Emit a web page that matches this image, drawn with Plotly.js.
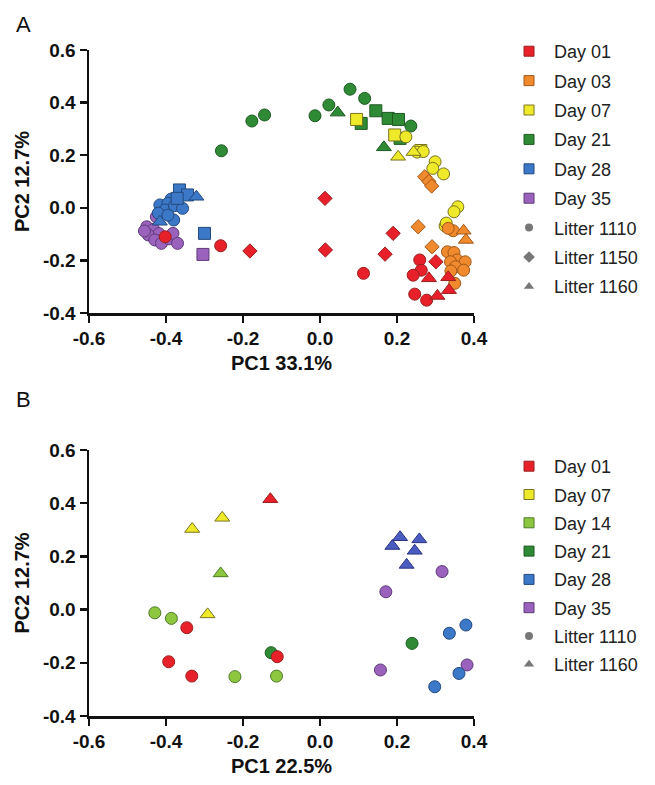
<!DOCTYPE html>
<html>
<head>
<meta charset="utf-8">
<script src="https://cdn.plot.ly/plotly-3.0.1.min.js"></script>
<style>html,body{margin:0;padding:0;background:#fff;}#chart{width:655px;height:785px;}</style>
</head>
<body>
<div id="chart"></div>
<script>
// ---------- DATA ----------
const xTickVals = [-0.6, -0.4, -0.2, 0, 0.2, 0.4];
const xTickText = ['-0.6', '-0.4', '-0.2', '0.0', '0.2', '0.4'];
const yTickVals = [-0.4, -0.2, 0, 0.2, 0.4, 0.6];
const yTickText = ['-0.4', '-0.2', '0.0', '0.2', '0.4', '0.6'];

const A_days = ['Day 01', 'Day 03', 'Day 07', 'Day 21', 'Day 28', 'Day 35'];
const A_litters = ['Litter 1110', 'Litter 1150', 'Litter 1160'];
const B_days = ['Day 01', 'Day 07', 'Day 14', 'Day 21', 'Day 28', 'Day 35'];
const B_litters = ['Litter 1110', 'Litter 1160'];

// Panel A groups (drawn in this order)
const A_groupDay = ['Day 35', 'Day 35', 'Day 28', 'Day 28', 'Day 28', 'Day 21', 'Day 21', 'Day 21',
                    'Day 07', 'Day 07', 'Day 07', 'Day 03', 'Day 03', 'Day 03', 'Day 01', 'Day 01', 'Day 01'];
const A_groupLitter = ['Litter 1110', 'Other', 'Litter 1110', 'Other', 'Litter 1160', 'Litter 1110', 'Other', 'Litter 1160',
                       'Other', 'Litter 1110', 'Litter 1160', 'Litter 1110', 'Litter 1150', 'Litter 1160', 'Litter 1110', 'Litter 1150', 'Litter 1160'];
const A_pc1 = [
  [-0.425, -0.450, -0.432, -0.418, -0.446, -0.429, -0.412, -0.392, -0.382, -0.370, -0.456],
  [-0.304],
  [-0.387, -0.416, -0.395, -0.403, -0.378, -0.357, -0.380, -0.420, -0.395],
  [-0.365, -0.344, -0.371, -0.300],
  [-0.321, -0.416],
  [-0.256, -0.177, -0.144, -0.013, 0.023, 0.078, 0.116, 0.236],
  [0.107, 0.145, 0.177, 0.204, 0.208],
  [0.046, 0.166],
  [0.095, 0.194, 0.262],
  [0.223, 0.252, 0.268, 0.299, 0.293, 0.321, 0.358, 0.348, 0.325, 0.328],
  [0.203, 0.243],
  [0.346, 0.333, 0.331, 0.348, 0.356, 0.377, 0.339, 0.352, 0.373, 0.340, 0.350],
  [0.272, 0.283, 0.290, 0.255, 0.291],
  [0.373, 0.379],
  [-0.402, -0.258, 0.113, 0.259, 0.263, 0.242, 0.246, 0.277],
  [-0.182, 0.013, 0.014, 0.190, 0.169, 0.301],
  [0.283, 0.333, 0.335, 0.305]
];
const A_pc2 = [
  [-0.034, -0.072, -0.082, -0.098, -0.103, -0.122, -0.135, -0.118, -0.097, -0.135, -0.088],
  [-0.177],
  [0.033, 0.011, 0.017, -0.008, 0.008, -0.002, -0.046, -0.020, -0.028],
  [0.068, 0.049, 0.036, -0.097],
  [0.042, -0.053],
  [0.217, 0.330, 0.353, 0.350, 0.391, 0.451, 0.416, 0.311],
  [0.321, 0.369, 0.340, 0.336, 0.264],
  [0.362, 0.230],
  [0.336, 0.277, 0.218],
  [0.270, 0.212, 0.214, 0.175, 0.150, 0.129, 0.004, -0.015, -0.069, -0.058],
  [0.194, 0.212],
  [-0.087, -0.078, -0.167, -0.170, -0.198, -0.205, -0.205, -0.224, -0.237, -0.240, -0.287],
  [0.118, 0.100, 0.083, -0.072, -0.148],
  [-0.087, -0.122],
  [-0.110, -0.144, -0.249, -0.198, -0.237, -0.256, -0.328, -0.351],
  [-0.164, 0.036, -0.160, -0.097, -0.176, -0.205],
  [-0.268, -0.264, -0.313, -0.335]
];

// Panel B groups
const B_groupDay = ['Day 35', 'Day 28', 'Day 28', 'Day 21', 'Day 14', 'Day 14', 'Day 07', 'Day 01', 'Day 01'];
const B_groupLitter = ['Litter 1110', 'Litter 1110', 'Litter 1160', 'Litter 1110', 'Litter 1110', 'Litter 1160', 'Litter 1160', 'Litter 1110', 'Litter 1160'];
const B_pc1 = [
  [0.317, 0.171, 0.382, 0.157],
  [0.379, 0.336, 0.361, 0.298],
  [0.188, 0.208, 0.258, 0.246, 0.225],
  [-0.127, 0.239],
  [-0.429, -0.386, -0.221, -0.113],
  [-0.258],
  [-0.254, -0.332, -0.292],
  [-0.346, -0.393, -0.333, -0.111],
  [-0.129]
];
const B_pc2 = [
  [0.143, 0.067, -0.208, -0.227],
  [-0.058, -0.089, -0.240, -0.290],
  [0.239, 0.272, 0.264, 0.221, 0.168],
  [-0.162, -0.127],
  [-0.012, -0.033, -0.252, -0.250],
  [0.136],
  [0.345, 0.303, -0.018],
  [-0.068, -0.196, -0.250, -0.177],
  [0.415]
];

// ---------- STYLE ----------
const dayFill = {
  'Day 01': '#e8202a', 'Day 03': '#f08a2c', 'Day 07': '#eeea2a', 'Day 14': '#8dc63f',
  'Day 21': '#2f8a35', 'Day 28': '#3b78c8', 'Day 35': '#9b62bd'
};
const dayLine = {
  'Day 01': '#9a2020', 'Day 03': '#a0581a', 'Day 07': '#7a7420', 'Day 14': '#4e7a28',
  'Day 21': '#1d5a22', 'Day 28': '#24497e', 'Day 35': '#5e3a78'
};
const symbolOf = {'Litter 1110': 'circle', 'Litter 1150': 'diamond', 'Litter 1160': 'triangle-up', 'Other': 'square'};
const sizeOf = {'circle': 12, 'diamond': 11, 'triangle-up': 13, 'square': 12};
const legendSym = {'Litter 1110': 'circle', 'Litter 1150': 'diamond', 'Litter 1160': 'triangle-up'};
const legendSymSize = {'circle': 8, 'diamond': 9, 'triangle-up': 9};

const FONT = 'Liberation Sans, Arial, Helvetica, sans-serif';
const traces = [];

function addGroups(groupDay, groupLitter, pc1, pc2, xa, ya, triColor) {
  for (let i = 0; i < groupDay.length; i++) {
    const sym = symbolOf[groupLitter[i]];
    let fill = dayFill[groupDay[i]];
    let line = dayLine[groupDay[i]];
    if (triColor && groupDay[i] === 'Day 28' && sym === 'triangle-up') { fill = '#4a5cc2'; line = '#2a3580'; }
    traces.push({
      type: 'scatter', mode: 'markers', x: pc1[i], y: pc2[i], xaxis: xa, yaxis: ya,
      showlegend: false, hoverinfo: 'skip', cliponaxis: false,
      marker: {symbol: sym, size: sizeOf[sym], color: fill, line: {color: line, width: 1}}
    });
  }
}
addGroups(A_groupDay, A_groupLitter, A_pc1, A_pc2, 'x', 'y', false);
addGroups(B_groupDay, B_groupLitter, B_pc1, B_pc2, 'x2', 'y2', true);

function addLegend(days, litters, legendId, xa, ya) {
  let rank = 1;
  days.forEach(d => {
    traces.push({type: 'scatter', mode: 'markers', x: [null], y: [null], xaxis: xa, yaxis: ya,
      name: d, legend: legendId, legendgroup: legendId + d, legendrank: rank++, hoverinfo: 'skip',
      marker: {symbol: 'square', size: 10, color: dayFill[d], line: {color: dayLine[d], width: 1}}});
  });
  litters.forEach(l => {
    const s = legendSym[l];
    traces.push({type: 'scatter', mode: 'markers', x: [null], y: [null], xaxis: xa, yaxis: ya,
      name: l, legend: legendId, legendgroup: legendId + l, legendrank: rank++, hoverinfo: 'skip',
      marker: {symbol: s, size: legendSymSize[s], color: '#777777', line: {width: 0}}});
  });
}
addLegend(A_days, A_litters, 'legend', 'x', 'y');
addLegend(B_days, B_litters, 'legend2', 'x2', 'y2');

const axisCommon = {
  showline: true, linecolor: '#111', linewidth: 2.5, showgrid: false, zeroline: false,
  ticks: 'outside', ticklen: 7, tickwidth: 2.5, tickcolor: '#111',
  tickfont: {family: FONT, size: 19, color: '#111', weight: 'bold'}, tickmode: 'array', fixedrange: true
};
const titleFont = {family: FONT, size: 20, color: '#111', weight: 'bold'};

const layout = {
  width: 655, height: 785,
  margin: {l: 89, r: 168, t: 50, b: 69},
  paper_bgcolor: '#fff', plot_bgcolor: '#fff',
  showlegend: true,
  xaxis: Object.assign({}, axisCommon, {domain: [0, 1], anchor: 'y', range: [-0.6, 0.4], tickvals: xTickVals, ticktext: xTickText,
    title: {text: 'PC1 33.1%', font: titleFont, standoff: 8}}),
  yaxis: Object.assign({}, axisCommon, {domain: [0.605, 1], anchor: 'x', range: [-0.4, 0.6], tickvals: yTickVals, ticktext: yTickText,
    title: {text: 'PC2 12.7%', font: titleFont, standoff: 8}}),
  xaxis2: Object.assign({}, axisCommon, {domain: [0, 1], anchor: 'y2', range: [-0.6, 0.4], tickvals: xTickVals, ticktext: xTickText,
    title: {text: 'PC1 22.5%', font: titleFont, standoff: 8}}),
  yaxis2: Object.assign({}, axisCommon, {domain: [0, 0.3994], anchor: 'x2', range: [-0.4, 0.6], tickvals: yTickVals, ticktext: yTickText,
    title: {text: 'PC2 12.7%', font: titleFont, standoff: 8}}),
  legend: {x: 1.078, xanchor: 'left', y: 1.0255, yanchor: 'top', itemwidth: 40, traceorder: 'grouped', tracegroupgap: 3,
    font: {family: FONT, size: 18, color: '#222'}, bgcolor: 'rgba(0,0,0,0)', itemclick: false, itemdoubleclick: false},
  legend2: {x: 1.078, xanchor: 'left', y: 0.4024, yanchor: 'top', itemwidth: 40, traceorder: 'grouped', tracegroupgap: 1.9,
    font: {family: FONT, size: 18, color: '#222'}, bgcolor: 'rgba(0,0,0,0)', itemclick: false, itemdoubleclick: false},
  annotations: [
    {text: 'A', xref: 'paper', yref: 'paper', x: -0.195, y: 1.0, xanchor: 'left', yanchor: 'middle', showarrow: false,
      font: {family: FONT, size: 22, color: '#111'}, yshift: 26},
    {text: 'B', xref: 'paper', yref: 'paper', x: -0.195, y: 0.3994, xanchor: 'left', yanchor: 'middle', showarrow: false,
      font: {family: FONT, size: 22, color: '#111'}, yshift: 50}
  ]
};

Plotly.newPlot('chart', traces, layout, {staticPlot: true, displayModeBar: false});
</script>
</body>
</html>
